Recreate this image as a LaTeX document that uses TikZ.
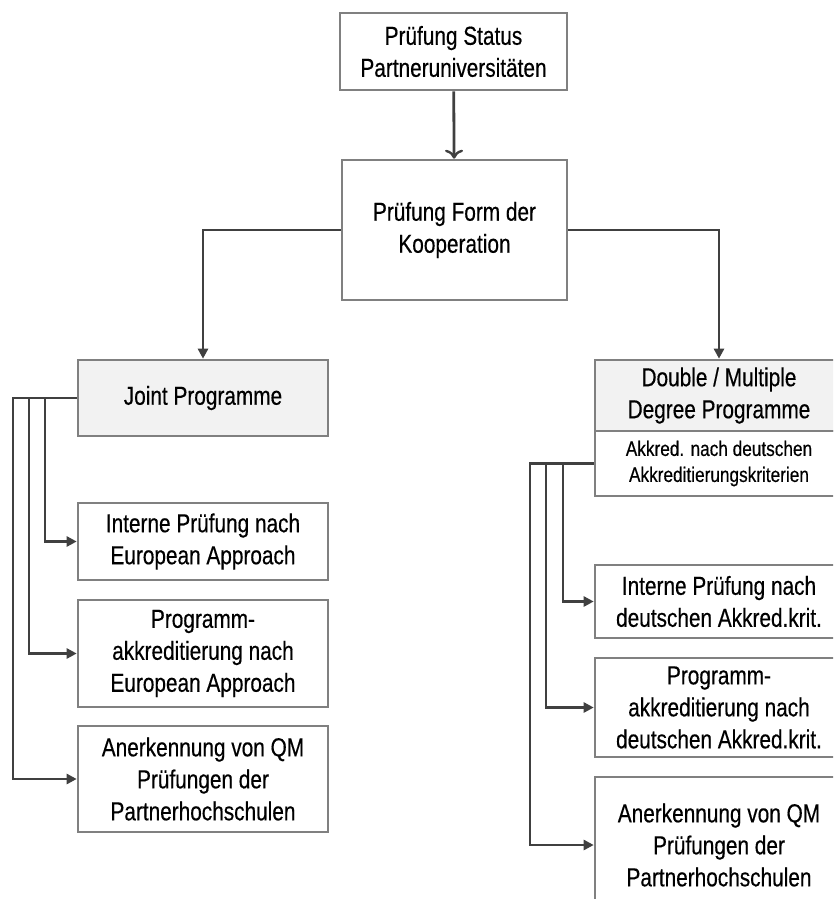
\documentclass[tikz,border=0pt]{standalone}
\usepackage{fontspec}
\setmainfont{Liberation Sans}[FakeStretch=0.80,FakeBold=0.4]
\newfontfamily\smallfnt{Liberation Sans}[FakeStretch=0.82,FakeBold=0.4]
\usetikzlibrary{arrows.meta}
\definecolor{conncol}{HTML}{404040}
\definecolor{boxcol}{HTML}{808080}
\definecolor{headfill}{HTML}{F2F2F2}
\tikzset{
  box/.style={draw=boxcol, line width=2.6pt, rectangle, inner sep=0pt, align=center,
    font=\fontsize{26}{32}\selectfont},
  smallbox/.style={box, font=\smallfnt\fontsize{21}{26}\selectfont},
  headbox/.style={box, fill=headfill},
  conn/.style={draw=conncol, line width=2.8pt, -{Triangle[length=10pt,width=10pt]}},
  openconn/.style={draw=conncol, line width=2.8pt, -{To[length=9pt,width=18pt,line width=2.4pt]}}
}
\begin{document}
\begin{tikzpicture}[x=1pt,y=-1pt]
\useasboundingbox (0,0) rectangle (833,899);
\clip (0,0) rectangle (833,899);
% boxes
\node[box, minimum width=227pt, minimum height=77pt] (top) at (453.5,51.5) {Prüfung Status\\Partneruniversitäten};
\node[box, minimum width=225pt, minimum height=140pt] (mid) at (454.5,230) {Prüfung Form der\\Kooperation};
\node[headbox, minimum width=250pt, minimum height=76pt] (joint) at (203,398) {Joint Programme};
\node[box, minimum width=250pt, minimum height=77pt] (ji) at (203,541.5) {Interne Prüfung nach\\European Approach};
\node[box, minimum width=250pt, minimum height=107pt] (jp) at (203,653.5) {Programm-\\akkreditierung nach\\European Approach};
\node[box, minimum width=250pt, minimum height=106pt] (ja) at (203,779) {Anerkennung von QM\\Prüfungen der\\Partnerhochschulen};
\node[headbox, minimum width=248pt, minimum height=71pt] (dh) at (719,395.5) {Double / Multiple\\Degree Programme};
\node[smallbox, minimum width=248pt, minimum height=65pt] (dl) at (719,463.5) {Akkred. nach deutschen\\Akkreditierungskriterien};
\node[box, minimum width=248pt, minimum height=73pt] (di) at (719,601.5) {Interne Prüfung nach\\deutschen Akkred.krit.};
\node[box, minimum width=248pt, minimum height=99pt] (dp) at (719,707.5) {Programm-\\akkreditierung nach\\deutschen Akkred.krit.};
\node[box, minimum width=248pt, minimum height=136pt] (da) at (719,845) {Anerkennung von QM\\Prüfungen der\\Partnerhochschulen};
% branch coordinates
\coordinate (jc1) at (45,398);
\coordinate (jc2) at (29,398);
\coordinate (jc3) at (13,398);
\coordinate (dc1) at (563,463.5);
\coordinate (dc2) at (546,463.5);
\coordinate (dc3) at (530,463.5);
% connectors
\draw[openconn] (top) -- (mid);
\draw[conn] (mid.west) -| (joint.north);
\draw[conn] (mid.east) -| (dh.north);
\draw[conn] (joint.west) -- (jc1) |- (ji.west);
\draw[conn] (jc1) -- (jc2) |- (jp.west);
\draw[conn] (jc2) -- (jc3) |- (ja.west);
\draw[conn] (dl.west) -- (dc1) |- (di.west);
\draw[conn] (dc1) -- (dc2) |- (dp.west);
\draw[conn] (dc2) -- (dc3) |- (da.west);
\end{tikzpicture}
\end{document}
